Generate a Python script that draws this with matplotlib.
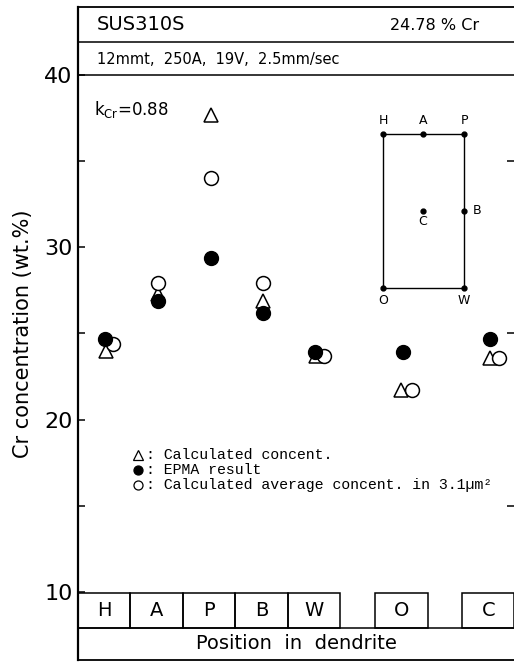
import matplotlib
matplotlib.use("Agg")
import matplotlib.pyplot as plt
from matplotlib.lines import Line2D
from matplotlib.patches import Rectangle

# Data: Cr concentration (wt.%) at each position in the dendrite
positions = ["H", "A", "P", "B", "W", "O", "C"]
calc_concent = [24.0, 27.3, 37.7, 26.9, 23.7, 21.7, 23.6]   # triangles
epma_result = [24.7, 26.9, 29.4, 26.2, 23.9, 23.9, 24.7]    # filled circles
calc_average = [24.4, 27.9, 34.0, 27.9, 23.7, 21.7, 23.6]   # open circles

legend_labels = [": Calculated concent.",
                 ": EPMA result",
                 ": Calculated average concent. in 3.1\u00b5m\u00b2"]

# Layout (pixels of a 514x664 figure)
W, H = 514, 664
X0, UNIT = 78, 52.4          # left spine and width of one position box
Y40, PX_PER = 75, 17.23      # y pixel of 40 wt.% and pixels per wt.%


def fig_xy(px, py):
    """Figure pixel -> figure fraction."""
    return px / W, 1 - py / H


def yval(py):
    """Figure pixel row -> data value."""
    return 40 - (py - Y40) / PX_PER


slot_left = [0, 1, 2, 3, 4, 5.67, 7.33]          # box left edge per position
x_center = [s + 0.5 for s in slot_left]
tri_shift = [0.03, 0.03, 0.03, 0.03, 0.05, 0.0, 0.03]
dot_shift = [0.02, 0.03, 0.03, 0.03, 0.02, 0.04, 0.03]
avg_shift = [0.17, 0.03, 0.04, 0.04, 0.2, 0.21, 0.2]

fig = plt.figure(figsize=(W / 100, H / 100), dpi=100)
ax = fig.add_axes([X0 / W, 1 - 660 / H, (W - X0) / W, (660 - 7) / H])
ax.set_xlim(0, (W - X0) / UNIT)
ax.set_ylim(yval(660), yval(7))

for side in ["left", "top", "bottom"]:
    ax.spines[side].set_linewidth(1.3)
ax.spines["left"].set_linewidth(1.6)
ax.spines["right"].set_visible(False)

ax.set_xticks([])
ax.set_yticks([10, 20, 30, 40])
ax.set_yticklabels(["10", "20", "30", "40"], fontsize=16)
ax.set_yticks([15, 20, 25, 30, 35], minor=True)
ax.tick_params(axis="y", which="major", direction="in", length=5, width=1.1, pad=4)
ax.tick_params(axis="y", which="minor", direction="in", length=5, width=1.1,
               right=True)
ax.set_ylabel("Cr concentration (wt.%)", fontsize=15, labelpad=8)

# header rows
ax.axhline(yval(42), color="black", lw=1.1)
ax.axhline(40, color="black", lw=1.1)
fig.text(*fig_xy(97, 25), "SUS310S", fontsize=14, va="center", ha="left",
         weight="medium")
fig.text(*fig_xy(390, 25), "24.78 % Cr", fontsize=11.5, va="center", ha="left")
fig.text(*fig_xy(97, 59), "12mmt,  250A,  19V,  2.5mm/sec", fontsize=10.5,
         va="center", ha="left")

# position boxes along the bottom
for left, name in zip(slot_left, positions):
    ax.add_patch(Rectangle((left, yval(628)), 1, yval(593) - yval(628),
                           fill=False, lw=1.1, ec="black", clip_on=False))
    ax.text(left + 0.5, yval(610), name, fontsize=14, ha="center", va="center")
ax.axhline(yval(628), color="black", lw=1.1)
ax.text((296 - X0) / UNIT, yval(644), "Position  in  dendrite", fontsize=14,
        ha="center", va="center")

# data points
xs_tri = [c + s for c, s in zip(x_center, tri_shift)]
xs_dot = [c + s for c, s in zip(x_center, dot_shift)]
xs_avg = [c + s for c, s in zip(x_center, avg_shift)]
ax.plot(xs_tri, calc_concent, ls="none", marker="^", ms=10, mfc="white",
        mec="black", mew=1.1, zorder=3)
ax.plot(xs_avg, calc_average, ls="none", marker="o", ms=10, mfc="white",
        mec="black", mew=1.1, zorder=4)
ax.plot(xs_dot, epma_result, ls="none", marker="o", ms=10, mfc="black",
        mec="black", zorder=5)

fig.text(*fig_xy(94, 110), r"k$_{\mathrm{Cr}}$=0.88", fontsize=12,
         va="center", ha="left")

# legend
leg_marks = [("^", "white"), ("o", "black"), ("o", "white")]
leg_rows = [455, 470, 485]
for (mk, fc), row, label in zip(leg_marks, leg_rows, legend_labels):
    fig.add_artist(Line2D([fig_xy(138, row)[0]], [fig_xy(138, row)[1]],
                          marker=mk, ms=6.5, mfc=fc, mec="black", mew=0.9,
                          ls="none", transform=fig.transFigure))
    fig.text(*fig_xy(146, row), label, family="Liberation Mono", fontsize=10.7,
             va="center", ha="left")

# inset sketch of the dendrite cell
inset_lines = [((383, 134), (464, 134)), ((464, 134), (464, 288)),
               ((464, 288), (383, 288)), ((383, 288), (383, 134))]
for (xa, ya), (xb, yb) in inset_lines:
    (fa, ga), (fb, gb) = fig_xy(xa, ya), fig_xy(xb, yb)
    fig.add_artist(Line2D([fa, fb], [ga, gb], color="black", lw=1.0,
                          transform=fig.transFigure))
inset_points = {"H": (383, 134, 383, 121), "A": (423, 134, 423, 121),
                "P": (464, 134, 464, 121), "B": (464, 211, 477, 211),
                "C": (423, 211, 423, 222), "O": (383, 288, 383, 301),
                "W": (464, 288, 464, 301)}
for name, (px, py, lx, ly) in inset_points.items():
    fx, fy = fig_xy(px, py)
    fig.add_artist(Line2D([fx], [fy], marker="o", ms=3.5, color="black",
                          transform=fig.transFigure))
    fig.text(*fig_xy(lx, ly), name, fontsize=9, ha="center", va="center")

fig.savefig("out.png", dpi=100)
